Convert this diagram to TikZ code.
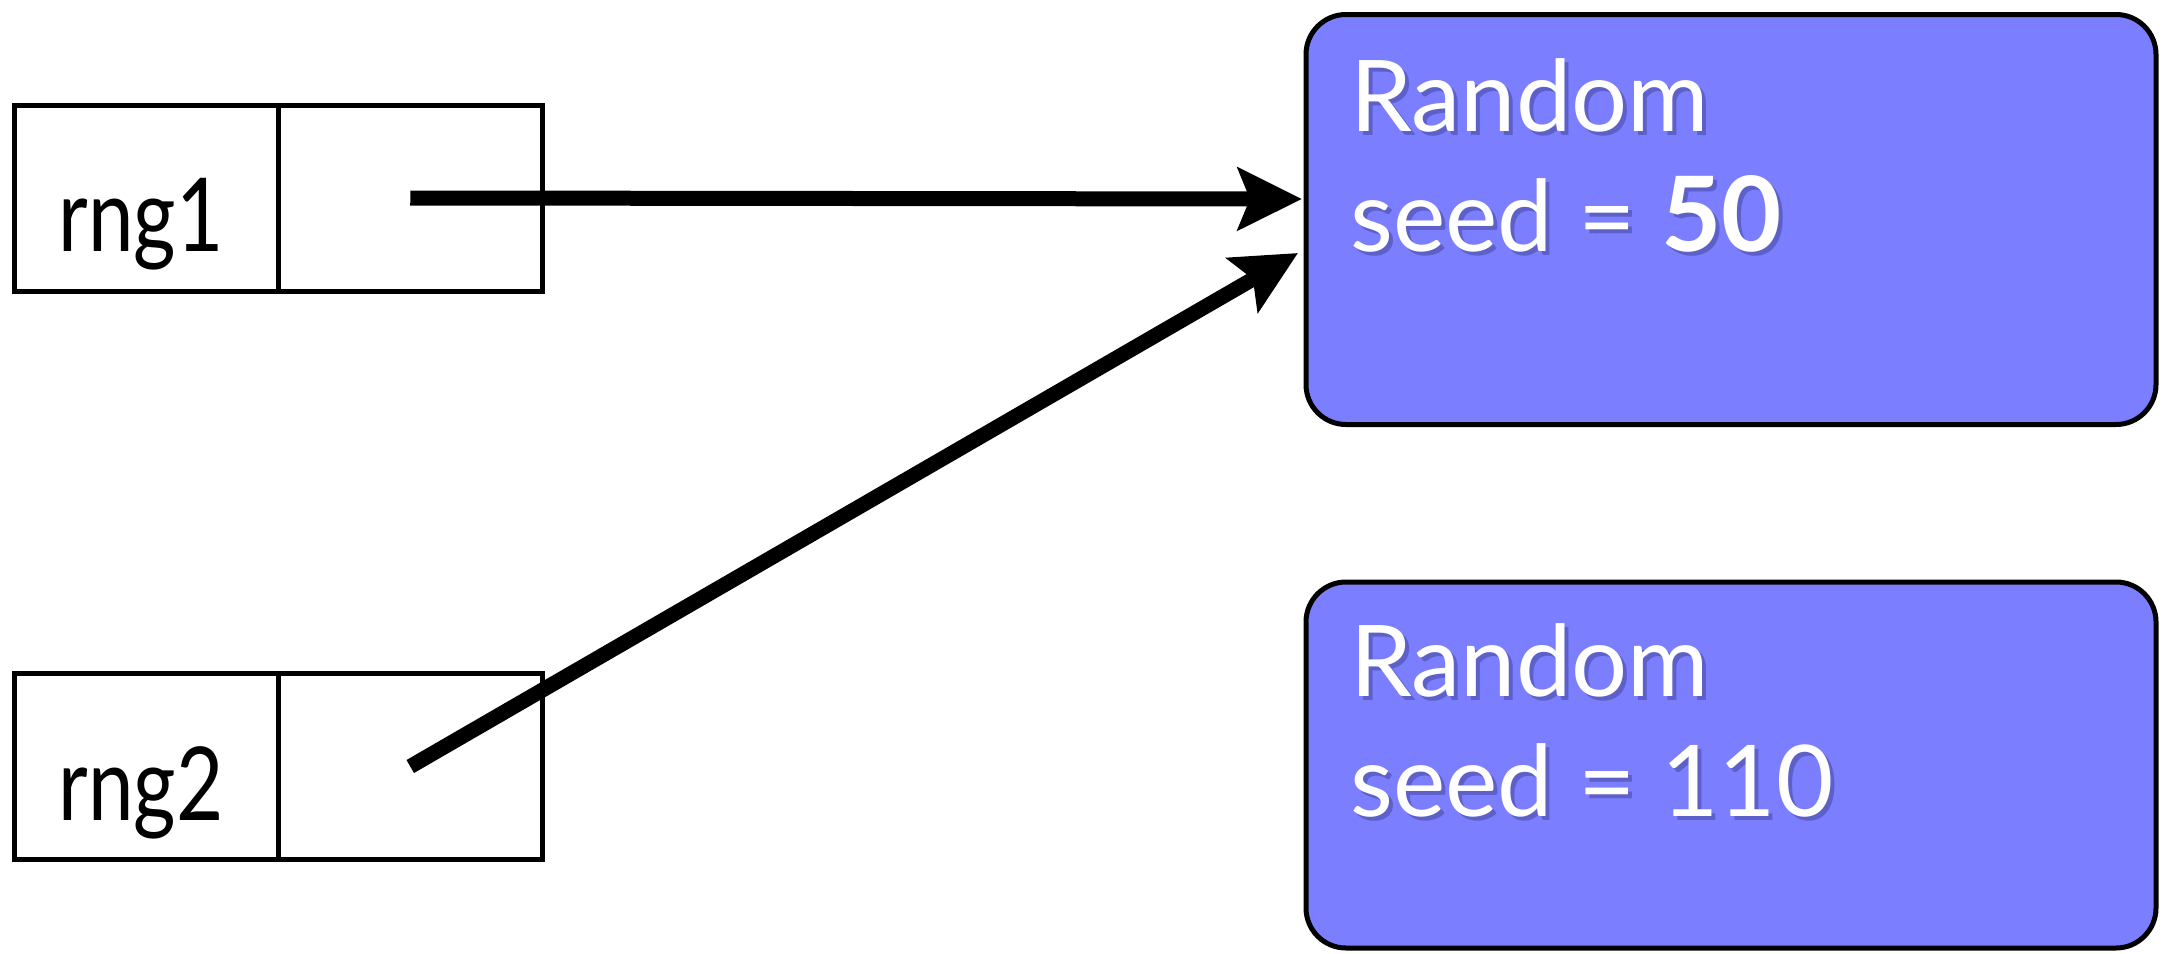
\documentclass[tikz,border=0pt]{standalone}
\usepackage{fontspec}
\setmainfont{Lato}
\newfontfamily\narrowlato[FakeStretch=0.8]{Lato}
\usetikzlibrary{arrows.meta}
\definecolor{randblue}{RGB}{123,127,255}
\definecolor{shadowblue}{RGB}{50,50,120}
\tikzset{
  cell/.style={draw=black, line width=5pt, minimum height=186pt, inner sep=0pt, outer sep=0pt},
  objbox/.style={draw=black, line width=5pt, fill=randblue, rounded corners=40pt, inner sep=0pt},
  reftext/.style={font=\narrowlato\fontsize{102}{120}\selectfont, text=black, inner sep=0pt},
  objtext/.style={font=\fontsize{99}{120}\selectfont, text=white, inner sep=0pt, anchor=base west},
  objshadow/.style={font=\fontsize{99}{120}\selectfont, text=shadowblue, opacity=0.4, inner sep=0pt, anchor=base west},
  ptr/.style={line width=15pt, -{Stealth[length=64pt, width=62pt, inset=12pt]}}
}
\begin{document}
\begin{tikzpicture}[x=1pt,y=-1pt]
\useasboundingbox (0,0) rectangle (2162,953);
% reference boxes
\node[cell, minimum width=264.5pt] (k1) at (146.25,198) {};
\node[cell, minimum width=263.5pt] (v1) at (410.25,198) {};
\node[cell, minimum width=264.5pt] (k2) at (146.25,766.5) {};
\node[cell, minimum width=263.5pt] (v2) at (410.25,766.5) {};
\node[reftext, anchor=base] (t1) at (141,251) {rng1};
\node[reftext, anchor=base] (t2) at (141,820) {rng2};
% objects
\node[objbox, minimum width=850pt, minimum height=410pt] (o1) at (1731,219.5) {};
\node[objbox, minimum width=850pt, minimum height=366pt] (o2) at (1731,765) {};
\node[objshadow] at (1354,135) {Random};
\node[objshadow] at (1354,255) {seed = \textbf{\fontsize{104}{120}\selectfont 50}};
\node[objtext] (a1) at (1350,131) {Random};
\node[objtext] (b1) at (1350,251) {seed = \textbf{\fontsize{104}{120}\selectfont 50}};
\node[objshadow] at (1354,700) {Random};
\node[objshadow] at (1354,820) {seed = 110};
\node[objtext] (a2) at (1350,696) {Random};
\node[objtext] (b2) at (1350,816) {seed = 110};
% pointer ends
\coordinate (e1) at (1302,199);
\coordinate (e2) at (1298,253);
\draw[ptr] (v1.center) -- (e1);
\draw[ptr] (v2.center) -- (e2);
\end{tikzpicture}
\end{document}
